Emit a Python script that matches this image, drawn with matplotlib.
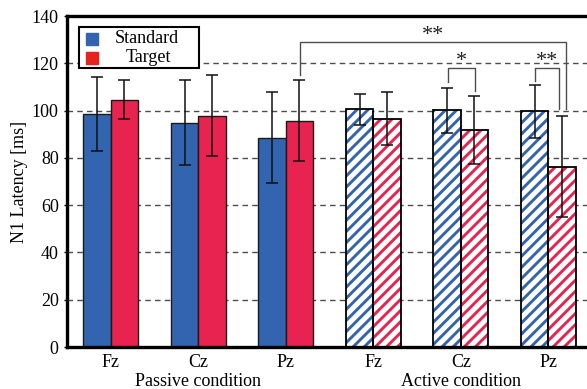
import matplotlib
matplotlib.use("Agg")
import matplotlib.pyplot as plt
import numpy as np
from matplotlib.patches import Rectangle
from matplotlib.lines import Line2D

plt.rcParams['font.family'] = ['Liberation Serif', 'DejaVu Serif']
plt.rcParams['hatch.linewidth'] = 2.1

electrodes = ['Fz', 'Cz', 'Pz', 'Fz', 'Cz', 'Pz']
conditions = ['Passive condition', 'Active condition']
standard_mean = [98.7, 94.9, 88.6, 100.6, 100.1, 99.7]
standard_err = [15.6, 18.0, 19.2, 6.6, 9.6, 11.1]
target_mean = [104.6, 97.9, 95.8, 96.6, 91.8, 76.2]
target_err = [8.2, 17.0, 17.0, 11.1, 14.2, 21.3]
hatched = [False, False, False, True, True, True]

# significance brackets: (x_left, x_right, y_top, y_left_end, y_right_end, label)
brackets = [
    (2.168, 5.208, 128.9, 115.2, 100.8, '**'),
    (3.855, 4.168, 117.9, 112.0, 108.2, '*'),
    (4.854, 5.120, 117.9, 112.7, 100.8, '**'),
]

blue = '#3264AF'
red = '#E8234F'
legend_red = '#E8231F'

W, H = 587, 389
fig = plt.figure(figsize=(W / 100, H / 100), dpi=100)
ax_left, ax_right, ax_top, ax_bot = 67, 592, 16, 347
ax = fig.add_axes([ax_left / W, 1 - ax_bot / H, (ax_right - ax_left) / W, (ax_bot - ax_top) / H])

x = np.arange(len(electrodes))
bw = 0.314

for yv in [20, 40, 60, 80, 100, 120]:
    ax.axhline(yv, color='0.3', lw=1.0, ls=(0, (4, 3)), zorder=0)

for i in range(len(x)):
    xs = x[i] - bw / 2
    xt = x[i] + bw / 2
    if hatched[i]:
        ax.bar(xs, standard_mean[i], bw, color='white', edgecolor=blue, hatch='///', lw=0, zorder=2)
        ax.bar(xs, standard_mean[i], bw, fill=False, edgecolor='black', lw=1.3, zorder=3)
        ax.bar(xt, target_mean[i], bw, color='white', edgecolor=red, hatch='///', lw=0, zorder=2)
        ax.bar(xt, target_mean[i], bw, fill=False, edgecolor='black', lw=1.3, zorder=3)
    else:
        ax.bar(xs, standard_mean[i], bw, color=blue, edgecolor='#1a1a1a', lw=1.0, zorder=2)
        ax.bar(xt, target_mean[i], bw, color=red, edgecolor='#1a1a1a', lw=1.0, zorder=2)
    ax.errorbar(xs, standard_mean[i], yerr=standard_err[i], fmt='none', ecolor='#111111',
                elinewidth=1.1, capsize=4.5, capthick=1.1, zorder=4)
    ax.errorbar(xt, target_mean[i], yerr=target_err[i], fmt='none', ecolor='#111111',
                elinewidth=1.1, capsize=4.5, capthick=1.1, zorder=4)

for (xl, xr, yt, yl, yr, lab) in brackets:
    ax.plot([xl, xl, xr, xr], [yl, yt, yt, yr], color='0.3', lw=1.0, zorder=5)
    ax.text((xl + xr) / 2, yt - 1.0, lab, ha='center', va='bottom', fontsize=16, color='#222222', zorder=6)

ax.set_xlim(-0.5, 5.5)
ax.set_ylim(0, 140)
ax.set_yticks(np.arange(0, 141, 20))
ax.set_xticks(x)
ax.set_xticklabels(electrodes, fontsize=13)
ax.tick_params(axis='y', labelsize=13, length=2, width=1, pad=4)
ax.tick_params(axis='x', length=0, pad=5)
for s in ['left', 'bottom', 'top']:
    ax.spines[s].set_linewidth(2.4)
ax.spines['right'].set_visible(False)
ax.set_ylabel('N1 Latency [ms]', fontsize=13, labelpad=3)

ax.text(1, -0.103, conditions[0], transform=ax.get_xaxis_transform(), ha='center', va='center', fontsize=13)
ax.text(4, -0.103, conditions[1], transform=ax.get_xaxis_transform(), ha='center', va='center', fontsize=13)

# legend (manual, centred labels)
def fx(px):
    return px / W

def fy(py):
    return 1 - py / H

fig.add_artist(Rectangle((fx(79), fy(68)), fx(199) - fx(79), fy(27) - fy(68),
                         transform=fig.transFigure, facecolor='white', edgecolor='black', lw=1.5, zorder=5))
fig.add_artist(Line2D([fx(92)], [fy(38.5)], marker='s', markersize=8, color=blue, ls='none',
                      transform=fig.transFigure, zorder=6))
fig.add_artist(Line2D([fx(92)], [fy(57.5)], marker='s', markersize=8, color=legend_red, ls='none',
                      transform=fig.transFigure, zorder=6))
fig.text(fx(147), fy(38.5), 'Standard', ha='center', va='center', fontsize=13, zorder=7)
fig.text(fx(148), fy(57.5), 'Target', ha='center', va='center', fontsize=13, zorder=7)

fig.savefig('out.png', dpi=100)
